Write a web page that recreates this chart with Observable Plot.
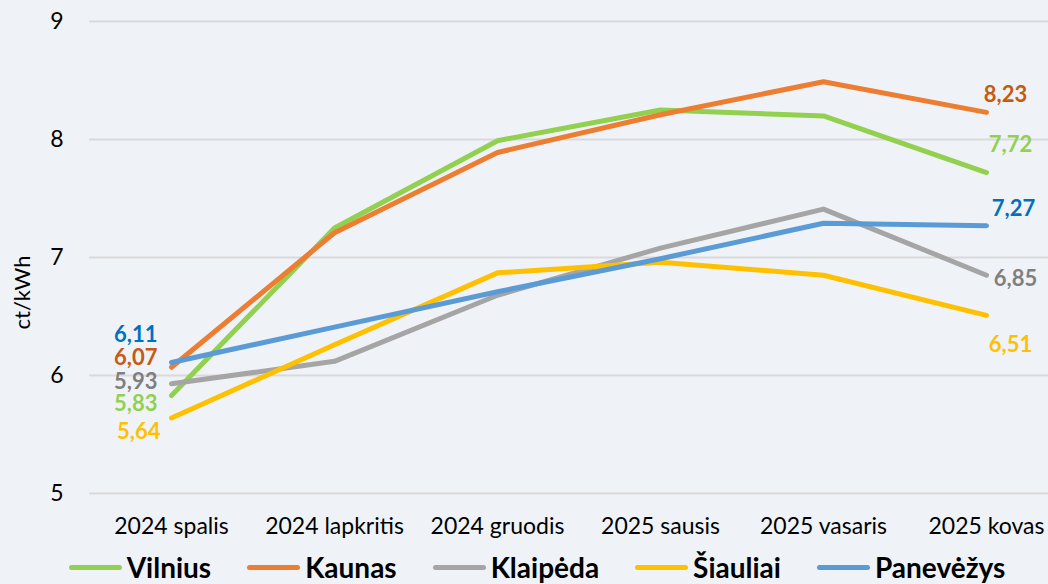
<!DOCTYPE html>
<html>
<head>
<meta charset="utf-8">
<script src="https://cdn.jsdelivr.net/npm/d3@7"></script>
<script src="https://cdn.jsdelivr.net/npm/@observablehq/plot@0.6"></script>
<style>
  html, body { margin: 0; padding: 0; background: #eff3f8; }
  body { width: 1048px; height: 584px; overflow: hidden; font-family: Lato, "Open Sans", sans-serif; }
  #chart svg { display: block; }
  #legend { display: flex; justify-content: center; align-items: center; gap: 36px; padding-left: 26px; padding-top: 5px; height: 34px; line-height: 28px; }
  .item { display: flex; align-items: center; font-weight: bold; font-size: 28px; color: #000; }
  .sw { width: 53px; height: 5px; border-radius: 3px; margin-right: 5px; }
</style>
</head>
<body>
<div id="chart"></div>
<div id="legend"></div>
<script>
const months = ["2024 spalis", "2024 lapkritis", "2024 gruodis", "2025 sausis", "2025 vasaris", "2025 kovas"];
const cities = ["Vilnius", "Kaunas", "Klaipėda", "Šiauliai", "Panevėžys"];
const vilnius   = [5.83, 7.25, 7.99, 8.25, 8.20, 7.72];
const kaunas    = [6.07, 7.21, 7.89, 8.21, 8.49, 8.23];
const klaipeda  = [5.93, 6.12, 6.68, 7.08, 7.41, 6.85];
const siauliai  = [5.64, 6.26, 6.87, 6.96, 6.85, 6.51];
const panevezys = [6.11, 6.41, 6.71, 6.99, 7.29, 7.27];
const yTicks = [5, 6, 7, 8, 9];

const series = [vilnius, kaunas, klaipeda, siauliai, panevezys];
const lineColors = ["#92d050", "#ed7d31", "#a5a5a5", "#ffc000", "#5b9bd5"];
const labelColors = ["#92d050", "#c55a11", "#7f7f7f", "#ffc000", "#0070c0"];
// label offsets (px) for first and last values
const firstOffsets = [[-14, 8], [-14, -9], [-14, -2], [-11, 14], [-14, -28]];
const lastOffsets  = [[24, -28], [19, -17], [29, 4], [24, 30], [27, -17]];

const data = cities.flatMap((c, i) => months.map((m, j) => ({city: c, month: m, value: series[i][j]})));
const fmt = v => v.toFixed(2).replace(".", ",");

const labelMarks = cities.flatMap((c, i) => {
  const first = {month: months[0], value: series[i][0]};
  const last = {month: months[months.length - 1], value: series[i][months.length - 1]};
  return [
    Plot.text([first], {x: "month", y: "value", text: d => fmt(d.value), fill: labelColors[i],
      textAnchor: "end", dx: firstOffsets[i][0], dy: firstOffsets[i][1], fontWeight: "bold", fontSize: 22}),
    Plot.text([last], {x: "month", y: "value", text: d => fmt(d.value), fill: labelColors[i],
      textAnchor: "middle", dx: lastOffsets[i][0], dy: lastOffsets[i][1], fontWeight: "bold", fontSize: 22})
  ];
});

const chart = Plot.plot({
  width: 1048,
  height: 545,
  marginLeft: 89,
  marginRight: 0,
  marginTop: 21,
  marginBottom: 52,
  style: {background: "#eff3f8", fontFamily: "Lato, 'Open Sans', sans-serif", color: "#000"},
  x: {type: "point", domain: months, range: [171, 986], padding: 0},
  y: {domain: [5, 9]},
  color: {domain: cities, range: lineColors},
  marks: [
    Plot.ruleY(yTicks, {stroke: "#d9d9d9", strokeWidth: 2}),
    Plot.axisY({ticks: yTicks, tickFormat: d => String(d), tickSize: 0, tickPadding: 26, fontSize: 23, label: null}),
    Plot.axisX({tickSize: 0, tickPadding: 24, fontSize: 23, label: null}),
    Plot.text(["ct/kWh"], {frameAnchor: "bottom-left", textAnchor: "middle", rotate: -90, dx: -60, dy: -201, fontSize: 22, fill: "#000"}),
    Plot.line(data, {x: "month", y: "value", z: "city", stroke: "city", strokeWidth: 5, strokeLinejoin: "round", strokeLinecap: "round"}),
    ...labelMarks
  ]
});
document.getElementById("chart").appendChild(chart);

const legend = document.getElementById("legend");
cities.forEach((c, i) => {
  const item = document.createElement("div");
  item.className = "item";
  const sw = document.createElement("span");
  sw.className = "sw";
  sw.style.background = lineColors[i];
  const t = document.createElement("span");
  t.textContent = c;
  item.appendChild(sw);
  item.appendChild(t);
  legend.appendChild(item);
});
</script>
</body>
</html>
